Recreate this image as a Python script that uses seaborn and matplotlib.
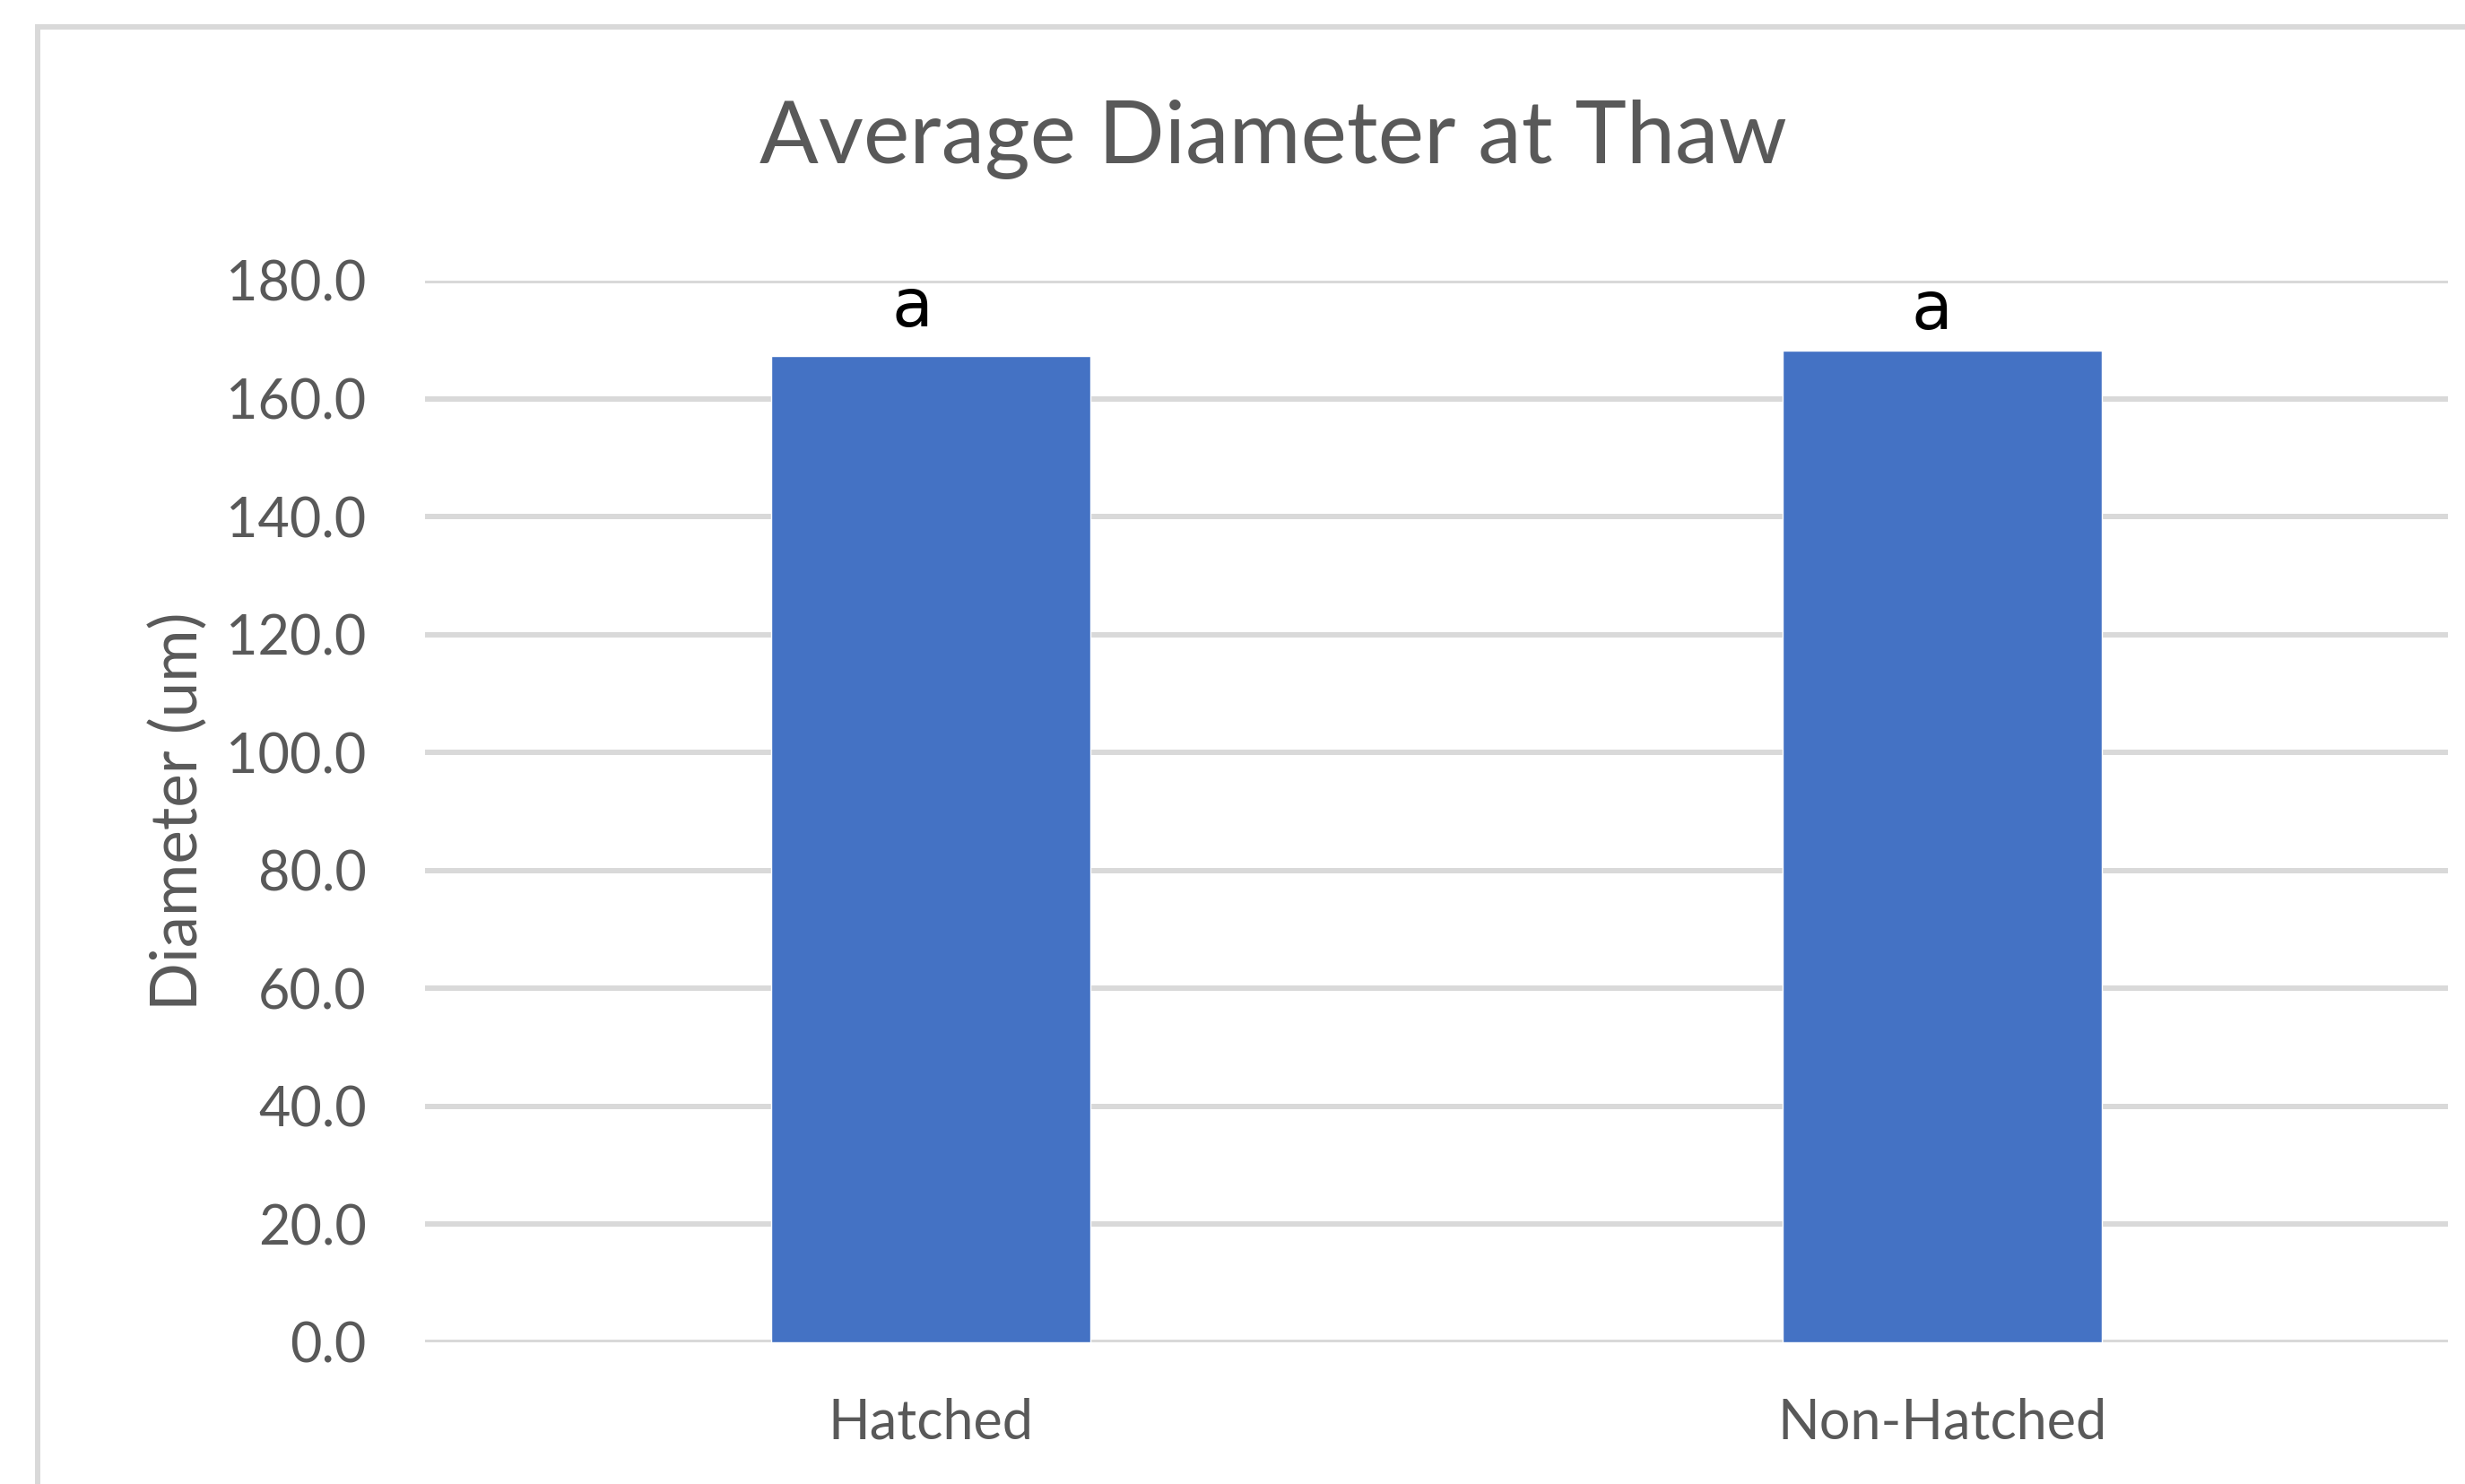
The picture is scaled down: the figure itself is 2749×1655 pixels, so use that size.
import matplotlib
matplotlib.use("Agg")
import matplotlib.pyplot as plt
import seaborn as sns
import pandas as pd
from matplotlib.patches import Rectangle

categories = ["Hatched", "Non-Hatched"]
diameters = [167.2, 168.1]
letters = ["a", "a"]
yticks = [0, 20, 40, 60, 80, 100, 120, 140, 160, 180]

sns.set_theme(style="white")
plt.rcParams['font.family'] = ['Lato', 'DejaVu Sans']

W, H = 2749, 1655
fig = plt.figure(figsize=(W / 100, H / 100), dpi=100)
fig.patch.set_facecolor("white")

# chart frame
fig.patches.append(Rectangle((42 / W, -0.1), 1.2, 1 - 30 / H + 0.1, transform=fig.transFigure,
                             fill=False, edgecolor="#D9D9D9", linewidth=4.3, zorder=0))

ax = fig.add_axes([474 / W, 1 - 1497 / H, (2730 - 474) / W, (1497 - 313) / H])
df = pd.DataFrame({"cat": categories, "val": diameters})
sns.barplot(data=df, x="cat", y="val", color="#4472C4", saturation=1, width=0.316,
            ax=ax, zorder=3)
ax.set_xlim(-0.5, 1.5)
ax.set_ylim(0, 180)
ax.set_yticks(yticks)
ax.set_yticklabels([f"{v:.1f}" for v in yticks])
ax.yaxis.grid(True, color="#D9D9D9", linewidth=4.3, zorder=0)
ax.set_axisbelow(True)
for s in ax.spines.values():
    s.set_visible(False)
ax.tick_params(axis="both", length=0, labelsize=44, labelcolor="#595959")
ax.tick_params(axis="y", pad=47)
ax.tick_params(axis="x", pad=44)
ax.set_xlabel("")
ax.set_ylabel("Diameter (um)", fontsize=51, color="#595959")
ax.yaxis.set_label_coords(-0.107, 0.5)

offsets = [-0.018, -0.01]
for i, (v, t) in enumerate(zip(diameters, letters)):
    ax.text(i + offsets[i], v + 2.6 - i * 1.4, t, ha="center", va="bottom", fontsize=54,
            color="black", family=["DejaVu Sans"])

fig.text(1420 / W, 1 - 155 / H, "Average Diameter at Thaw", ha="center", va="center",
         fontsize=70, color="#595959")

fig.savefig("out.png", dpi=100, facecolor="white")
